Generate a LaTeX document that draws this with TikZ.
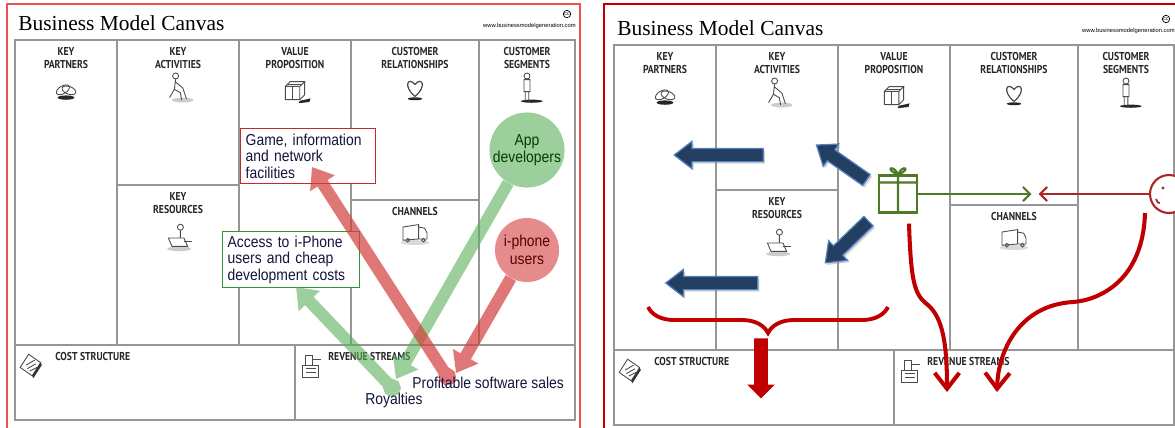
\documentclass[tikz,border=0pt]{standalone}
\usepackage{fontspec}
\setmainfont{Liberation Sans}
\newfontfamily\titlefont{Liberation Serif}
\newfontfamily\headfont[FakeStretch=0.85]{PT Sans}
\newfontfamily\notefont[FakeStretch=0.88]{Liberation Sans}
\usetikzlibrary{arrows.meta,shapes.arrows,shadows,decorations.pathreplacing}

\definecolor{gridgray}{RGB}{150,150,150}
\definecolor{frameL}{RGB}{240,80,80}
\definecolor{frameR}{RGB}{192,0,0}
\definecolor{notenavy}{RGB}{20,20,60}
\definecolor{boxred}{RGB}{200,40,40}
\definecolor{boxgreen}{RGB}{50,150,50}
\definecolor{softred}{RGB}{212,62,62}
\definecolor{softgreen}{RGB}{90,175,90}
\definecolor{navyblock}{RGB}{36,62,98}
\definecolor{edgeblue}{RGB}{79,129,189}
\definecolor{brick}{RGB}{192,0,0}
\definecolor{giftgreen}{RGB}{78,122,39}
\definecolor{facered}{RGB}{170,40,40}

\tikzset{
  gridline/.style={draw=gridgray,line width=0.9pt},
  head/.style={font=\headfont\bfseries\fontsize{6.5}{7.4}\selectfont,align=center,
               anchor=north,inner sep=0pt,text=black!85},
  icon/.style={draw=black!70,line width=0.5pt},
  % small sketches for the nine blocks
  pics/links/.style={code={
    \fill[black!85] (0,8) ellipse (7 and 1.8);
    \draw[icon,rotate=30] (-3,0) ellipse (6 and 3.2);
    \draw[icon,rotate=-20] (3,1) ellipse (6 and 3.2);
  }},
  pics/worker/.style={code={
    \fill[black!20] (4,10) ellipse (9 and 2);
    \draw[icon] (-2,-10) circle (2.5);
    \draw[icon] (-2,-7.5) -- (-3,1) -- (-7,8) (-3,1) -- (2,4) -- (3,10)
                (-2,-5) -- (4,0) -- (7,9);
  }},
  pics/present/.style={code={
    \fill[black!85] (4,9) -- (13,7) -- (12,10) -- (3,11) -- cycle;
    \draw[icon] (-8,-3) rectangle (4,8) (-8,-3) -- (-4,-7) -- (8,-7) -- (4,-3)
                (8,-7) -- (8,4) -- (4,8);
    \draw[icon] (-2,-3) -- (-2,8) (-6,-5) -- (6,-5);
  }},
  pics/heart/.style={code={
    \fill[black!85] (0,9) ellipse (6 and 1.2);
    \draw[icon,line width=0.7pt] (0,7) .. controls (-10,-1) and (-6,-10) .. (0,-3)
                                       .. controls (6,-10) and (10,-1) .. (0,7);
  }},
  pics/customer/.style={code={
    \fill[black!85] (4,11) ellipse (9 and 1.3);
    \draw[icon] (0,-10) circle (2.5) (-2.5,-7) rectangle (2.5,3)
                (-1.5,3) -- (-1.5,11) (1.5,3) -- (1.5,11);
  }},
  pics/desk/.style={code={
    \fill[black!20] (1,9) ellipse (10 and 2);
    \draw[icon] (2,-9) circle (2.5) (2,-6.5) -- (2,0);
    \draw[icon,fill=white] (-8,0) -- (5,0) -- (8,7) -- (-5,7) -- cycle;
    \draw[icon] (5,3) -- (12,3);
  }},
  pics/truck/.style={code={
    \fill[black!15] (0,8) ellipse (12 and 2);
    \draw[icon] (-10,-5) -- (3,-7) -- (3,5) -- (-10,6) -- cycle
                (3,-5) -- (8,-4) -- (10,0) -- (10,5) -- (3,5);
    \draw[icon] (-6,6) circle (1.5) (7,6) circle (1.5);
  }},
  pics/ledger/.style={code={
    \draw[icon,fill=white] (-9,2) -- (-2,-9) -- (8,-2) -- (1,9) -- cycle;
    \draw[icon] (-4,0) -- (3,-4) (-3,3) -- (4,-1) (-1,5) -- (5,2);
    \fill[black!80] (1,9) -- (8,-2) -- (9,0) -- (2,11) -- cycle;
  }},
  pics/till/.style={code={
    \draw[icon,fill=white] (-7,0) rectangle (6,10);
    \draw[icon] (-5,0) -- (-5,-8) -- (1,-8) -- (1,0) (1,-5) -- (8,-5)
                (-4,3) -- (4,3) (-4,6) -- (4,6);
  }},
  % the empty canvas, 560 x 380 px
  pics/canvas/.style={code={
    \draw[gridline] (0,0) rectangle (560,380);
    \draw[gridline] (0,305) -- (560,305) (280,305) -- (280,380)
                    (102,0) -- (102,305) (224,0) -- (224,305)
                    (336,0) -- (336,305) (464,0) -- (464,305)
                    (102,145) -- (224,145) (336,160) -- (464,160);
    \node[font=\titlefont\fontsize{12.2}{14}\selectfont,anchor=base west,inner sep=0pt]
      (-title) at (3,-10) {Business Model Canvas};
    \node[font=\fontsize{3.3}{4}\selectfont,anchor=base east,inner sep=0pt]
      (-url) at (561,-13) {www.businessmodelgeneration.com};
    \node[circle,draw,line width=0.4pt,inner sep=0.3pt,font=\fontsize{3}{3}\selectfont]
      (-cc) at (552,-26) {cc};
    \node[head] (-kp) at (51,7) {KEY\\PARTNERS};
    \node[head] (-ka) at (163,7) {KEY\\ACTIVITIES};
    \node[head] (-vp) at (280,7) {VALUE\\PROPOSITION};
    \node[head] (-cr) at (400,7) {CUSTOMER\\RELATIONSHIPS};
    \node[head] (-cs) at (512,7) {CUSTOMER\\SEGMENTS};
    \node[head] (-kr) at (163,152) {KEY\\RESOURCES};
    \node[head] (-ch) at (400,167) {CHANNELS};
    \node[head,anchor=north west] (-cost) at (40,312) {COST STRUCTURE};
    \node[head,anchor=north west] (-rev) at (313,312) {REVENUE STREAMS};
    \pic[scale=1.2] at (51,48) {links};
    \pic[scale=1.2] at (163,48) {worker};
    \pic[scale=1.2] at (280,50) {present};
    \pic[scale=1.2] at (400,48) {heart};
    \pic[scale=1.2] at (512,48) {customer};
    \pic[scale=1.2] at (163,198) {desk};
    \pic[scale=1.2] at (400,193) {truck};
    \pic[scale=1.2] at (16,325) {ledger};
    \pic[scale=1.2] at (296,325) {till};
  }},
  notebox/.style={anchor=north west,align=left,fill=white,line width=0.8pt,
                  font=\notefont\fontsize{9}{9.3}\selectfont,text=notenavy,
                  inner xsep=0.1cm,inner ysep=1pt},
  bubble/.style={circle,minimum size=1.28cm,inner sep=0pt,align=center,
                 fill opacity=0.6,text opacity=1,
                 font=\notefont\fontsize{9}{10}\selectfont},
  bigarrow/.style={line width=6.8pt,-{Triangle[width=16pt,length=11pt]}},
  dotarrow/.style={line width=6.8pt,{Circle[length=10pt]}-{Triangle[width=16pt,length=11pt]}},
  blockarrow/.style={single arrow,fill=navyblock,draw=edgeblue,line width=0.7pt,
                     inner xsep=0pt,inner ysep=0.12cm,single arrow head extend=0.14cm,
                     single arrow tip angle=75,
                     drop shadow={opacity=.35,shadow xshift=1pt,shadow yshift=-1.2pt}},
  link/.style={line width=1.2pt,-{Straight Barb[length=4pt,width=8pt]}},
  flow/.style={draw=brick,line width=2.3pt,-{Straight Barb[length=9pt,width=14pt]}}
}

\begin{document}
\begin{tikzpicture}[x=0.02cm,y=-0.02cm]
  \useasboundingbox (0,0) rectangle (1175,427);
  \clip (0,0) rectangle (1175,427);
  \fill[white] (0,0) rectangle (1175,427);

  %% left canvas: Apple's app store
  \draw[frameL,line width=1.2pt] (7,4) rectangle (580,440);
  \pic (L) at (15,40) {canvas};

  \node[notebox,draw=boxred,text width=2.5cm,minimum height=1.1cm] (gameBox) at (240,128)
    {Game, information\\and network\\facilities};
  \node[notebox,draw=boxgreen,text width=2.54cm,minimum height=1.12cm] (accessBox) at (222,231)
    {Access to i-Phone\\users and cheap\\development costs};
  \node[bubble,fill=softgreen,text=green!25!black] (appCirc) at (527,150) {App\\developers};
  \node[bubble,fill=softred,text=red!35!black] (phoneCirc) at (527,250) {i-phone\\users};

  \coordinate (phoneTip) at (456,373);
  \coordinate (appTip) at (396,379);
  \coordinate (gameTip) at (312,167);
  \coordinate (accessTip) at (296,287);
  \coordinate (profitDot) at (452,384);
  \coordinate (royalDot) at (398,394);

  \begin{scope}[transparency group,opacity=.7]
    \draw[bigarrow,softred] (phoneCirc) -- (phoneTip);
  \end{scope}
  \begin{scope}[transparency group,opacity=.6]
    \draw[bigarrow,softgreen] (appCirc) -- (appTip);
  \end{scope}
  \begin{scope}[transparency group,opacity=.7]
    \draw[dotarrow,softred] (profitDot) -- (gameTip);
  \end{scope}
  \begin{scope}[transparency group,opacity=.6]
    \draw[dotarrow,softgreen] (royalDot) -- (accessTip);
  \end{scope}

  \node[font=\notefont\fontsize{9}{10}\selectfont,text=notenavy,anchor=base west,inner sep=0pt]
    (profit) at (412,388) {Profitable software sales};
  \node[font=\notefont\fontsize{9}{10}\selectfont,text=notenavy,anchor=base west,inner sep=0pt]
    (royal) at (365,404) {Royalties};

  %% right canvas: value flows
  \draw[frameR,line width=1.2pt] (604,4) rectangle (1185,440);
  \pic (R) at (614,45) {canvas};

  \node[blockarrow,minimum height=1.78cm,rotate=180] (toPartners) at (723,155) {};
  \node[blockarrow,minimum height=1.22cm,rotate=145] (toActivities) at (845,165) {};
  \node[blockarrow,minimum height=1.2cm,rotate=224] (toResources) at (850,239) {};
  \node[blockarrow,minimum height=1.84cm,rotate=180] (toCost) at (716,283) {};

  \draw[brick,line width=2.2pt,decorate,decoration={brace,amplitude=0.52cm,mirror}]
    (648,307) -- (888,307);
  \node[single arrow,fill=brick,minimum height=1.2cm,inner xsep=0pt,inner ysep=0.13cm,
        single arrow head extend=0.14cm,rotate=-90] (costArrow) at (761,365) {};

  % gift with bow
  \node[draw=giftgreen,line width=1.2pt,minimum width=0.76cm,minimum height=0.74cm,inner sep=0pt]
    (gift) at (898,194) {};
  \draw[giftgreen,line width=1.2pt]
    ([yshift=-0.16cm]gift.north west) -- ([yshift=-0.16cm]gift.north east)
    (gift.north) -- (gift.south)
    (gift.north) .. controls +(-0.1cm,0.22cm) and +(-0.28cm,0.1cm) .. (gift.north)
    (gift.north) .. controls +(0.1cm,0.22cm) and +(0.28cm,0.1cm) .. (gift.north);

  % customer face
  \node[circle,draw=facered,line width=1.2pt,minimum size=0.76cm,inner sep=0pt,fill=white]
    (face) at (1169,194) {};
  \fill[facered] ([shift={(-6,-6)}]face.center) circle (1.6);
  \draw[facered,line width=1pt] ([shift={(-13,5)}]face.center) .. controls +(0.04cm,-0.08cm) .. ([shift={(-9,9)}]face.center);

  \coordinate (meet) at (1035,194);
  \draw[link,giftgreen] (gift.east) -- ([xshift=-2pt]meet);
  \draw[link,facered] (face.west) -- ([xshift=2pt]meet);

  \coordinate (revTipA) at (947,392);
  \coordinate (revTipB) at (997,392);
  \draw[flow] ([shift={(11,10)}]gift.south) .. controls (911,285) and (915,295) .. (928,305)
    .. controls (943,318) and (947,345) .. (revTipA);
  \draw[flow] ([shift={(-24,19)}]face.center) .. controls (1143,280) and (1100,300) .. (1073,302)
    .. controls (1020,305) and (998,350) .. (revTipB);
\end{tikzpicture}
\end{document}
